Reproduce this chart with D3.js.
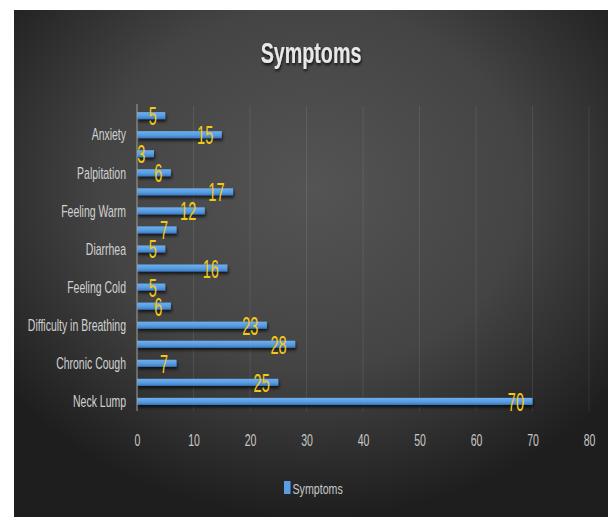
<!DOCTYPE html>
<html>
<head>
<meta charset="utf-8">
<script src="https://cdn.jsdelivr.net/npm/d3@7"></script>
<style>
  html, body { margin: 0; padding: 0; background: #fff; }
  svg { display: block; }
  text { font-family: "Liberation Sans", Arial, sans-serif; }
</style>
</head>
<body>
<script>
// Data, in Excel order (bottom to top)
const categoryLabels = ["Neck Lump", "", "Chronic Cough", "", "Difficulty in Breathing", "",
  "Feeling Cold", "", "Diarrhea", "", "Feeling Warm", "", "Palpitation", "", "Anxiety", ""];
const values = [70, 25, 7, 28, 23, 6, 5, 16, 5, 7, 12, 17, 6, 3, 15, 5];
const xTicks = [0, 10, 20, 30, 40, 50, 60, 70, 80];
const seriesName = "Symptoms";
const chartTitle = "Symptoms";

const W = 608, H = 517;
const svg = d3.select("body").append("svg").attr("width", W).attr("height", H);
const defs = svg.append("defs");

const bg = defs.append("radialGradient").attr("id", "bg")
  .attr("cx", "50%").attr("cy", "35%").attr("r", "65%");
bg.append("stop").attr("offset", "0").attr("stop-color", "#545454");
bg.append("stop").attr("offset", "0.55").attr("stop-color", "#444444");
bg.append("stop").attr("offset", "1").attr("stop-color", "#1e1e1e");

const barGrad = defs.append("linearGradient").attr("id", "barGrad")
  .attr("x1", 0).attr("y1", 0).attr("x2", 0).attr("y2", 1);
barGrad.append("stop").attr("offset", "0").attr("stop-color", "#6eb0f0");
barGrad.append("stop").attr("offset", "0.6").attr("stop-color", "#559ae0");
barGrad.append("stop").attr("offset", "1").attr("stop-color", "#3a78c0");

const sh = defs.append("filter").attr("id", "shadow")
  .attr("x", "-10%").attr("y", "-50%").attr("width", "130%").attr("height", "250%");
sh.append("feDropShadow").attr("dx", 1).attr("dy", 2.5).attr("stdDeviation", 1.5)
  .attr("flood-color", "#000").attr("flood-opacity", 0.7);

const tsh = defs.append("filter").attr("id", "tshadow")
  .attr("x", "-20%").attr("y", "-30%").attr("width", "140%").attr("height", "170%");
tsh.append("feDropShadow").attr("dx", 1).attr("dy", 2).attr("stdDeviation", 1.5)
  .attr("flood-color", "#000").attr("flood-opacity", 0.8);

svg.append("rect").attr("x", 14).attr("y", 10).attr("width", W - 14).attr("height", H - 10)
  .attr("fill", "url(#bg)");

// scales
const x = d3.scaleLinear().domain([0, 80]).range([137, 589]);
const idx = d3.range(values.length);
const y = d3.scaleBand().domain(idx.slice().reverse()).range([106, 411])
  .paddingInner(0.63).paddingOuter(0.32);

// gridlines
svg.append("g").selectAll("line").data(xTicks.filter(d => d > 0)).join("line")
  .attr("x1", d => x(d)).attr("x2", d => x(d))
  .attr("y1", 106).attr("y2", 411)
  .attr("stroke", "#ffffff").attr("stroke-opacity", 0.09).attr("stroke-width", 1);

// bars
svg.append("g").selectAll("rect").data(idx).join("rect")
  .attr("x", x(0))
  .attr("y", i => y(i))
  .attr("width", i => x(values[i]) - x(0))
  .attr("height", y.bandwidth())
  .attr("fill", "url(#barGrad)")
  .attr("filter", "url(#shadow)");

// vertical axis line
svg.append("line").attr("x1", x(0)).attr("x2", x(0)).attr("y1", 104).attr("y2", 411)
  .attr("stroke", "#a0a0a0").attr("stroke-width", 1);

// category axis
const yAxis = d3.axisLeft(y).tickSize(0).tickPadding(11).tickFormat(i => categoryLabels[i]);
const gy = svg.append("g").attr("transform", `translate(${x(0)},0)`).call(yAxis);
gy.select(".domain").remove();
gy.selectAll("text")
  .attr("fill", "#d2d2d2").attr("font-size", 16)
  .attr("dy", "0.36em")
  .attr("x", -11 / 0.655)
  .attr("transform", "scale(0.655,1)");

// value axis
const xAxis = d3.axisBottom(x).tickValues(xTicks).tickSize(0).tickPadding(0);
const gx = svg.append("g").attr("transform", "translate(0,433)").call(xAxis);
gx.select(".domain").remove();
gx.selectAll("text")
  .attr("fill", "#c8c8c8").attr("font-size", 17).attr("dy", "0.76em")
  .attr("transform", "scale(0.62,1)")
  .attr("x", 0);

// value labels
svg.append("g").selectAll("text").data(idx).join("text")
  .attr("transform", i => `translate(${x(values[i]) - 8.5},${y(i) + y.bandwidth() / 2 + 9.5}) scale(0.56,1)`)
  .attr("text-anchor", "end")
  .attr("font-size", 26)
  .attr("fill", "#f4c816")
  .text(i => values[i]);

// title
svg.append("text")
  .attr("transform", `translate(311,63) scale(0.68,1)`)
  .attr("text-anchor", "middle")
  .attr("font-size", 29).attr("font-weight", "bold")
  .attr("fill", "#e8e8e8")
  .attr("filter", "url(#tshadow)")
  .text(chartTitle);

// legend
const lg = svg.append("g");
lg.append("rect").attr("x", 284).attr("y", 481).attr("width", 6.5).attr("height", 13)
  .attr("fill", "#5a9de2");
lg.append("text")
  .attr("transform", "translate(292.5,494) scale(0.71,1)")
  .attr("font-size", 15).attr("fill", "#c8c8c8")
  .text(seriesName);
</script>
</body>
</html>
